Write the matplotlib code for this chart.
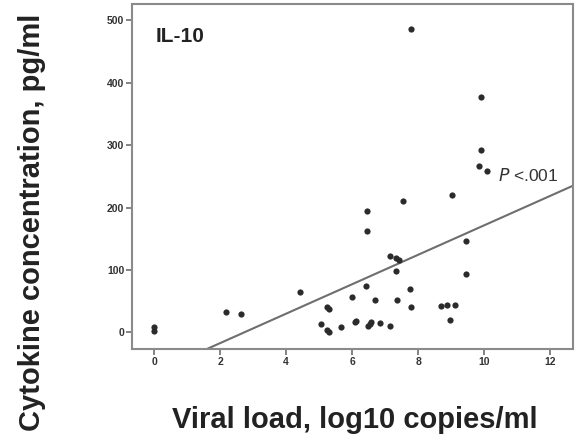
import numpy as np
import matplotlib
matplotlib.use("Agg")
import matplotlib.pyplot as plt

plt.rcParams['font.family'] = ['Liberation Sans', 'DejaVu Sans']

# viral load (log10 copies/ml) and IL-10 concentration (pg/ml)
viral_load = [0.0, 0.0, 2.18, 2.63, 4.42, 5.07, 5.23, 5.30, 5.25, 5.31,
              5.65, 5.99, 6.08, 6.12, 6.41, 6.45, 6.46, 6.48, 6.55, 6.58,
              6.69, 6.83, 7.15, 7.15, 7.33, 7.33, 7.36, 7.43, 7.54, 7.76,
              7.78, 7.78, 8.70, 8.87, 8.97, 9.02, 9.13, 9.45, 9.46, 9.85,
              9.90, 9.91, 10.08]
il10 = [9, 3, 32, 30, 65, 13.6, 4, 0.8, 40, 38,
        8.3, 56, 16.3, 18.4, 74.5, 194, 163, 11, 14, 17.3,
        52.6, 15, 122, 11, 119, 98.6, 51.6, 116, 210, 69,
        486, 41, 42.5, 44.6, 19.5, 220, 44.6, 147, 94, 267,
        377, 292, 259]

# regression line: y = slope * x + intercept
slope = 23.57
intercept = -64.2

x_ticks = [0, 2, 4, 6, 8, 10, 12]
y_ticks = [0, 100, 200, 300, 400, 500]
x_lim = (-0.68, 12.69)
y_lim = (-27, 526)

fig = plt.figure(figsize=(5.78, 4.37), dpi=100)
ax = fig.add_axes([0.228, 0.2007, 0.763, 0.790])

ax.scatter(viral_load, il10, s=20, color='#2b2b2b', zorder=3, linewidths=0)
xl = np.array(x_lim)
ax.plot(xl, slope * xl + intercept, color='#6e6e6e', lw=1.5, zorder=2)

ax.set_xlim(*x_lim)
ax.set_ylim(*y_lim)
ax.set_xticks(x_ticks)
ax.set_yticks(y_ticks)
ax.tick_params(axis='both', direction='out', length=4, width=1.2,
               color='#6e6e6e', labelsize=7.5, pad=1.5, labelcolor='#333333')
for lab in ax.get_xticklabels() + ax.get_yticklabels():
    lab.set_fontweight('bold')
for sp in ax.spines.values():
    sp.set_color('#8a8a8a')
    sp.set_linewidth(1.5)

ax.text(0.03, 474, 'IL-10', fontsize=15, fontweight='bold', color='#222222',
        va='center', ha='left')
ax.text(10.42, 251, '$P$ <.001', fontsize=12.5, color='#333333',
        va='center', ha='left', math_fontfamily='dejavusans')

fig.text(0.614, 0.0206, 'Viral load, log10 copies/ml', fontsize=21,
         fontweight='bold', color='#222222', ha='center', va='baseline')
fig.text(0.055, 0.492, 'Cytokine concentration, pg/ml', fontsize=21,
         fontweight='bold', color='#222222', ha='center', va='center',
         rotation=90)

fig.savefig('out.png', dpi=100)
